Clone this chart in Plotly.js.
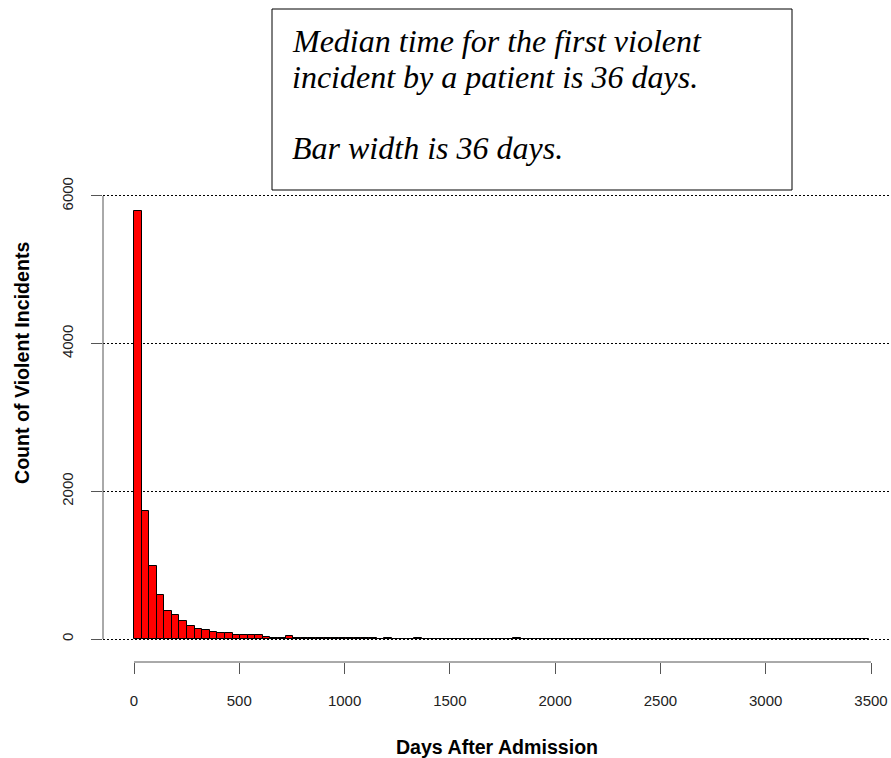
<!DOCTYPE html>
<html>
<head>
<meta charset="utf-8">
<script src="https://cdn.plot.ly/plotly-3.0.1.min.js"></script>
<style>
html,body{margin:0;padding:0;background:#fff;}
#chart{width:891px;height:758px;}
</style>
</head>
<body>
<div id="chart"></div>
<script>
// ---- data ----
const binWidthDays = 36;
const incidentCounts = [
  5800, 1740, 990, 600, 378, 330, 240, 172, 135, 117,
  97, 84, 82, 50, 50, 50, 50, 32, 12, 12,
  35, 10, 8, 8, 8, 8, 8, 8, 8, 8,
  8, 8, 2, 15, 2, 2, 2, 15, 2, 2,
  2, 2, 2, 2, 2, 2, 2, 2, 2, 2,
  15, 1, 1, 1, 1, 1, 1, 1, 1, 1,
  1, 1, 1, 1, 1, 1, 1, 1, 1, 1,
  1, 1, 1, 1, 1, 1, 1, 1, 1, 1,
  1, 1, 1, 1, 1, 1, 1, 1, 1, 1,
  1, 1, 1, 1, 1, 1, 1
];
const xTickVals = [0, 500, 1000, 1500, 2000, 2500, 3000, 3500];
const yTickVals = [0, 2000, 4000, 6000];
const xTitleText = 'Days After Admission';
const yTitleText = 'Count of Violent Incidents';
const noteLines = [
  'Median time for the first violent',
  'incident by a patient is 36 days.',
  'Bar width is 36 days.'
];

// bin centres derived from the bin width
const binCenters = incidentCounts.map((_, i) => i * binWidthDays + binWidthDays / 2);

// ---- layout geometry (pixels) ----
const L = 103, T = 178, W = 788, H = 484;
const pxX = x => (x - L) / W;
const pxY = y => (T + H - y) / H;

const trace = {
  type: 'bar',
  x: binCenters,
  y: incidentCounts,
  width: binWidthDays,
  marker: { color: '#ff0000', line: { color: '#000000', width: 1 } },
  hoverinfo: 'x+y'
};

const noteFont = { family: 'Liberation Serif, "Times New Roman", serif', size: 32, style: 'italic', color: '#000' };
const noteY = [40.9, 76.7, 148.2];

const annotations = [0, 1, 2].map(i => ({
  xref: 'paper', yref: 'paper', x: pxX(291), y: pxY(noteY[i]),
  xanchor: 'left', yanchor: 'middle', showarrow: false, borderpad: 0,
  text: noteLines[i], font: noteFont, align: 'left'
}));
annotations.push({
  xref: 'paper', yref: 'paper', x: pxX(22), y: pxY(363),
  xanchor: 'center', yanchor: 'middle', showarrow: false, borderpad: 0,
  textangle: -90, text: yTitleText,
  font: { family: 'Liberation Sans, Arial, sans-serif', size: 19.6, weight: 700, color: '#000' }
});

const layout = {
  width: 891, height: 758,
  margin: { l: L, r: 891 - L - W, t: T, b: 758 - T - H, pad: 0 },
  paper_bgcolor: '#ffffff', plot_bgcolor: '#ffffff',
  showlegend: false,
  bargap: 0,
  font: { family: 'Liberation Sans, Arial, sans-serif', color: '#000' },
  xaxis: {
    range: [-147.2, 3595.0],
    tickvals: xTickVals,
    ticks: 'outside', ticklen: 11, tickwidth: 1, tickcolor: '#555',
    showgrid: false, zeroline: false, showline: false,
    tickfont: { size: 15, color: '#222' },
    ticklabelstandoff: 14,
    automargin: false,
    title: { text: xTitleText, font: { size: 19.6, weight: 700, color: '#000' }, standoff: 33 }
  },
  yaxis: {
    range: [-311.5, 6243.7],
    tickvals: yTickVals,
    ticks: 'outside', ticklen: 11, tickwidth: 1, tickcolor: '#555',
    showgrid: true, gridcolor: '#000', gridwidth: 1, griddash: '2px,2px',
    zeroline: false, showline: false,
    tickangle: -90,
    tickfont: { size: 15, color: '#222' },
    ticklabelstandoff: 12,
    automargin: false
  },
  shapes: [
    { type: 'line', xref: 'x', yref: 'paper', x0: xTickVals[0], x1: xTickVals[xTickVals.length - 1], y0: 0, y1: 0,
      line: { color: '#555', width: 1 }, layer: 'above' },
    { type: 'line', xref: 'paper', yref: 'y', x0: 0, x1: 0, y0: yTickVals[0], y1: yTickVals[yTickVals.length - 1],
      line: { color: '#555', width: 1 }, layer: 'above' },
    { type: 'rect', xref: 'paper', yref: 'paper', x0: pxX(272), x1: pxX(792), y0: pxY(190), y1: pxY(9),
      line: { color: '#000', width: 1 }, fillcolor: '#ffffff', layer: 'above' }
  ],
  annotations: annotations
};

Plotly.newPlot('chart', [trace], layout, { displayModeBar: false, responsive: false });
</script>
</body>
</html>
